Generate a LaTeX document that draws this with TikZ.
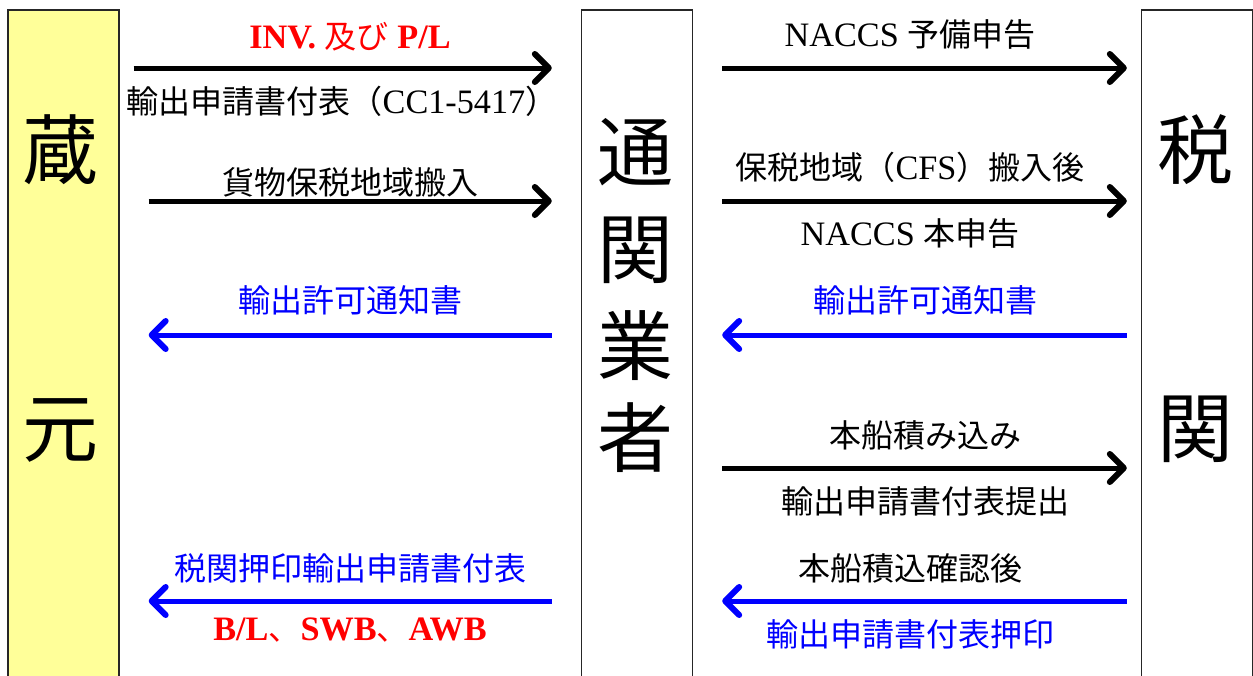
\documentclass[tikz,border=0pt]{standalone}
\usepackage{fontspec}
\setmainfont{Liberation Serif}[Scale=1.07]
\newfontfamily\jp{Noto Sans CJK JP}
\usetikzlibrary{arrows.meta}
\definecolor{boxyellow}{RGB}{255,255,153}
\definecolor{myblue}{RGB}{0,0,255}
\definecolor{myred}{RGB}{255,0,0}
\tikzset{
  party/.style={draw=black!85, line width=1.4pt, minimum width=111pt, minimum height=680pt, inner sep=0pt},
  bigchar/.style={font=\jp\fontsize{76}{80}\selectfont, inner sep=0pt},
  lbl/.style={font=\fontsize{32}{35}\selectfont, inner sep=0pt, anchor=center},
  arr/.style={line width=5pt, -{Straight Barb[length=14pt,width=28pt,line width=1pt 1,round]}},
  blk/.style={arr, black},
  blu/.style={arr, myblue},
}
\begin{document}
\begin{tikzpicture}[x=1pt,y=-1pt]
\useasboundingbox (0,0) rectangle (1253,675);
% boxes
\node[party, fill=boxyellow] (kura) at (63.5,350) {};
\node[party, fill=white] (tsukan) at (637,350) {};
\node[party, fill=white] (zeikan) at (1197,350) {};
% big characters
\node[bigchar] (k1) at (61,150) {蔵};
\node[bigchar] (k2) at (61,430) {元};
\node[bigchar] (t1) at (635,152) {通};
\node[bigchar] (t2) at (635,250) {関};
\node[bigchar] (t3) at (635,346) {業};
\node[bigchar] (t4) at (635,438) {者};
\node[bigchar] (z1) at (1195,150) {税};
\node[bigchar] (z2) at (1195,429) {関};
% row coordinates
\coordinate (r1) at (0,68);
\coordinate (r2) at (0,201);
\coordinate (r3) at (0,335);
\coordinate (r4) at (0,468);
\coordinate (r5) at (0,601);
% left arrows
\draw[blk, shorten <=14pt, shorten >=29pt] (kura.east |- r1) -- (tsukan.west |- r1);
\draw[blk, shorten <=29pt, shorten >=29pt] (kura.east |- r2) -- (tsukan.west |- r2);
\draw[blu, shorten <=29pt, shorten >=29pt] (tsukan.west |- r3) -- (kura.east |- r3);
\draw[blu, shorten <=29pt, shorten >=29pt] (tsukan.west |- r5) -- (kura.east |- r5);
% right arrows
\draw[blk, shorten <=29pt, shorten >=14pt] (tsukan.east |- r1) -- (zeikan.west |- r1);
\draw[blk, shorten <=29pt, shorten >=14pt] (tsukan.east |- r2) -- (zeikan.west |- r2);
\draw[blu, shorten <=14pt, shorten >=29pt] (zeikan.west |- r3) -- (tsukan.east |- r3);
\draw[blk, shorten <=29pt, shorten >=14pt] (tsukan.east |- r4) -- (zeikan.west |- r4);
\draw[blu, shorten <=14pt, shorten >=29pt] (zeikan.west |- r5) -- (tsukan.east |- r5);
% left labels
\node[lbl, myred] (l1a) at (350,37) {\textbf{INV.} {\jp 及び} \textbf{P/L}};
\node[lbl] (l1b) at (342,101) {{\jp 輸出申請書付表（}CC1-5417{\jp ）}};
\node[lbl] (l2a) at (350,182) {\jp 貨物保税地域搬入};
\node[lbl, myblue] (l3a) at (350,300) {\jp 輸出許可通知書};
\node[lbl, myblue] (l5a) at (350,568) {\jp 税関押印輸出申請書付表};
\node[lbl, myred] (l5b) at (350,630) {\textbf{B/L}{\jp 、}\textbf{SWB}{\jp 、}\textbf{AWB}};
% right labels
\node[lbl] (r1a) at (910,34) {NACCS {\jp 予備申告}};
\node[lbl] (r2a) at (910,167) {{\jp 保税地域（}CFS{\jp ）搬入後}};
\node[lbl] (r2b) at (910,233) {NACCS {\jp 本申告}};
\node[lbl, myblue] (r3a) at (925,300) {\jp 輸出許可通知書};
\node[lbl] (r4a) at (925,435) {\jp 本船積み込み};
\node[lbl] (r4b) at (925,501) {\jp 輸出申請書付表提出};
\node[lbl] (r5a) at (910,568) {\jp 本船積込確認後};
\node[lbl, myblue] (r5b) at (910,634) {\jp 輸出申請書付表押印};
\end{tikzpicture}
\end{document}
